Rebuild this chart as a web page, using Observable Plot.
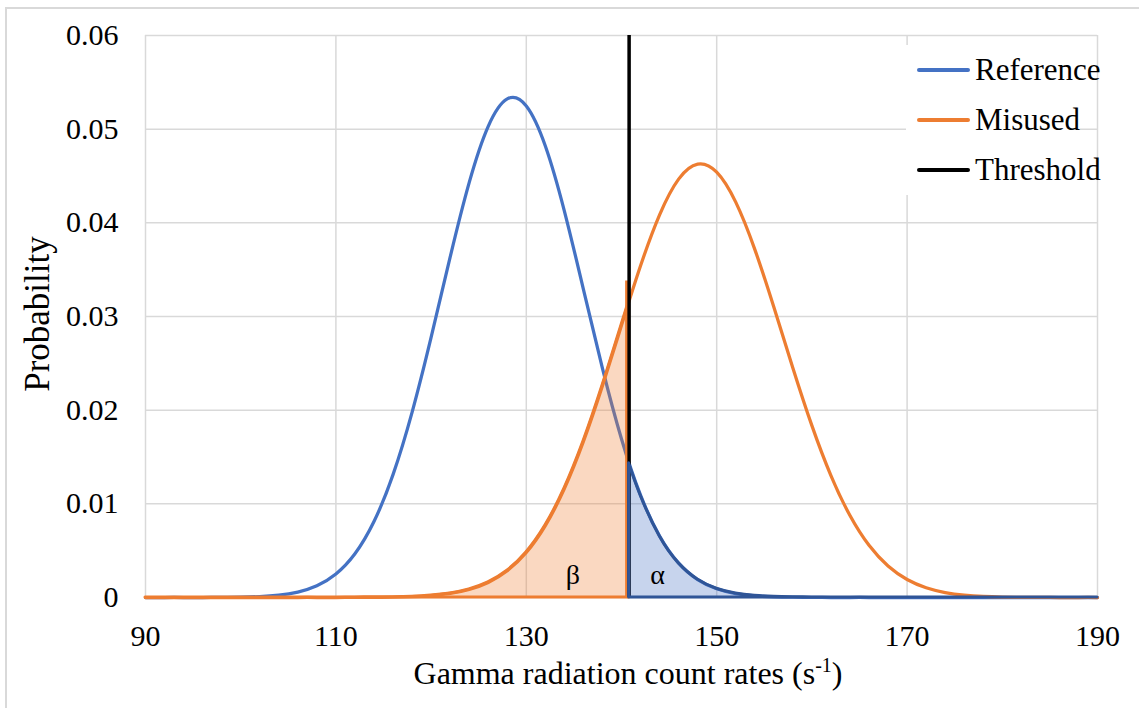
<!DOCTYPE html>
<html><head><meta charset="utf-8">
<script src="https://cdn.jsdelivr.net/npm/d3@7"></script>
<script src="https://cdn.jsdelivr.net/npm/@observablehq/plot@0.6"></script>
<style>
body{margin:0;background:#fff;}
#wrap{position:relative;width:1139px;height:708px;overflow:hidden;font-family:"Liberation Serif","Times New Roman",serif;}
#border{position:absolute;left:5px;top:7px;width:1300px;height:900px;border:2px solid #D9D9D9;box-sizing:border-box;pointer-events:none;}
#legend{position:absolute;left:906px;top:45px;width:174px;height:150px;background:#fff;}
.row{position:absolute;left:11px;height:50px;display:flex;align-items:center;white-space:nowrap;font-size:31px;color:#000;}
.sw{width:53px;height:3.5px;border-radius:2px;margin-right:5px;}
</style></head>
<body><div id="wrap"></div>
<script>
// ---- data ----
const countRates = [90,92,94,96,98,100,102,104,106,108,110,112,114,116,118,120,122,124,126,128,130,132,134,136,138,140,142,144,146,148,150,152,154,156,158,160,162,164,166,168,170,172,174,176,178,180,182,184,186,188,190];
const referenceProb = [0,0,0,0,0.00001,0.00004,0.0001,0.00025,0.00058,0.00125,0.00251,0.00467,0.00811,0.01312,0.01977,0.02777,0.03633,0.04429,0.0503,0.05323,0.05248,0.04821,0.04126,0.0329,0.02445,0.01692,0.01092,0.00656,0.00367,0.00192,0.00093,0.00042,0.00018,0.00007,0.00003,0.00001,0,0,0,0,0,0,0,0,0,0,0,0,0,0,0];
const misusedProb = [0,0,0,0,0,0,0,0,0,0,0,0.00001,0.00002,0.00004,0.00009,0.00021,0.00043,0.00086,0.00161,0.00286,0.00481,0.00768,0.01162,0.01665,0.0226,0.02906,0.03541,0.04086,0.04467,0.04627,0.04541,0.04221,0.03717,0.03101,0.02451,0.01835,0.01302,0.00875,0.00557,0.00336,0.00192,0.00104,0.00053,0.00026,0.00012,0.00005,0.00002,0.00001,0,0,0];
const thresholdX = 140.8;
const referenceAtThreshold = 0.01432;
const misusedAtThreshold = 0.03166;
const betaEdgeTop = 0.0338;
const xTicks = [90,110,130,150,170,190];
const yTicks = [0,0.01,0.02,0.03,0.04,0.05,0.06];
const yTickLabels = ["0","0.01","0.02","0.03","0.04","0.05","0.06"];
const seriesNames = ["Reference","Misused","Threshold"];
const seriesColors = ["#4472C4","#ED7D31","#000000"];
const regionLabels = ["β","α"];
const regionLabelX = [134.9,143.8];
const regionLabelY = [0.0024,0.0024];
const xTitle = "Gamma radiation count rates (s";
const xTitleSup = "-1";
const yTitle = "Probability";

// ---- tables ----
const ref = countRates.map((x,i)=>({x, y: referenceProb[i]}));
const mis = countRates.map((x,i)=>({x, y: misusedProb[i]}));
const beta = mis.filter(d=>d.x < thresholdX).concat([{x: thresholdX, y: misusedAtThreshold}]);
const alpha = [{x: thresholdX, y: referenceAtThreshold}].concat(ref.filter(d=>d.x > thresholdX));
const labels = regionLabels.map((t,i)=>({t, x: regionLabelX[i], y: regionLabelY[i]}));

const serif = '"Liberation Serif","Times New Roman",serif';
const grid = "#D9D9D9";
const chart = Plot.plot({
  width: 1139, height: 708,
  marginLeft: 145, marginRight: 42, marginTop: 35, marginBottom: 111,
  style: {fontFamily: serif, fontSize: "30px", color: "#000", background: "#fff"},
  x: {domain: [90,190], label: null},
  y: {domain: [0,0.06], label: null},
  marks: [
    Plot.ruleX(xTicks, {stroke: grid, strokeWidth: 1.5}),
    Plot.ruleY(yTicks, {stroke: grid, strokeWidth: 1.5}),
    Plot.axisX({ticks: xTicks, tickSize: 0, tickPadding: 27, tickFormat: d => String(d), label: null, fontSize: 30}),
    Plot.axisY({ticks: yTicks, tickSize: 0, tickPadding: 27, tickFormat: d => yTickLabels[yTicks.indexOf(d)], label: null, fontSize: 30}),
    Plot.line(ref, {x: "x", y: "y", stroke: seriesColors[0], strokeWidth: 3.25, curve: "natural"}),
    Plot.areaY(beta, {x: "x", y: "y", fill: seriesColors[1], fillOpacity: 0.3, stroke: seriesColors[1], strokeWidth: 3, curve: "natural"}),
    Plot.line(mis, {x: "x", y: "y", stroke: seriesColors[1], strokeWidth: 3.25, curve: "natural"}),
    Plot.ruleX([thresholdX], {y1: 0, y2: betaEdgeTop, stroke: seriesColors[1], strokeWidth: 3, dx: -2.5}),
    Plot.ruleX([thresholdX], {stroke: seriesColors[2], strokeWidth: 3.5}),
    Plot.areaY(alpha, {x: "x", y: "y", fill: seriesColors[0], fillOpacity: 0.3, stroke: "#2F5597", strokeWidth: 3, curve: "natural"}),
    Plot.text(labels, {x: "x", y: "y", text: "t", fontSize: 28, fill: "#000"})
  ]
});

const wrap = document.getElementById("wrap");
wrap.appendChild(chart);
const svg = d3.select(chart);
const xt = svg.append("text").attr("x", 628).attr("y", 684).attr("text-anchor", "middle")
  .attr("font-size", 32).attr("fill", "#000");
xt.append("tspan").text(xTitle);
xt.append("tspan").attr("font-size", 20).attr("dy", -12).text(xTitleSup);
xt.append("tspan").attr("dy", 12).text(")");
svg.append("text").attr("transform", "translate(49,314) rotate(-90)").attr("text-anchor", "middle")
  .attr("font-size", 35).attr("fill", "#000").text(yTitle);
// force the serif face on every text node (axis ticks included)
svg.selectAll("g").attr("font-family", null).attr("font-variant", null);
svg.selectAll("text").style("font-family", serif).style("font-variant", "normal");

const border = document.createElement("div"); border.id = "border"; wrap.appendChild(border);
const legend = document.createElement("div"); legend.id = "legend"; wrap.appendChild(legend);
seriesNames.forEach((name,i)=>{
  const row = document.createElement("div"); row.className = "row"; row.style.top = (50*i) + "px";
  const sw = document.createElement("span"); sw.className = "sw"; sw.style.background = seriesColors[i];
  const tx = document.createElement("span"); tx.textContent = name;
  row.appendChild(sw); row.appendChild(tx); legend.appendChild(row);
});
</script>
</body></html>
